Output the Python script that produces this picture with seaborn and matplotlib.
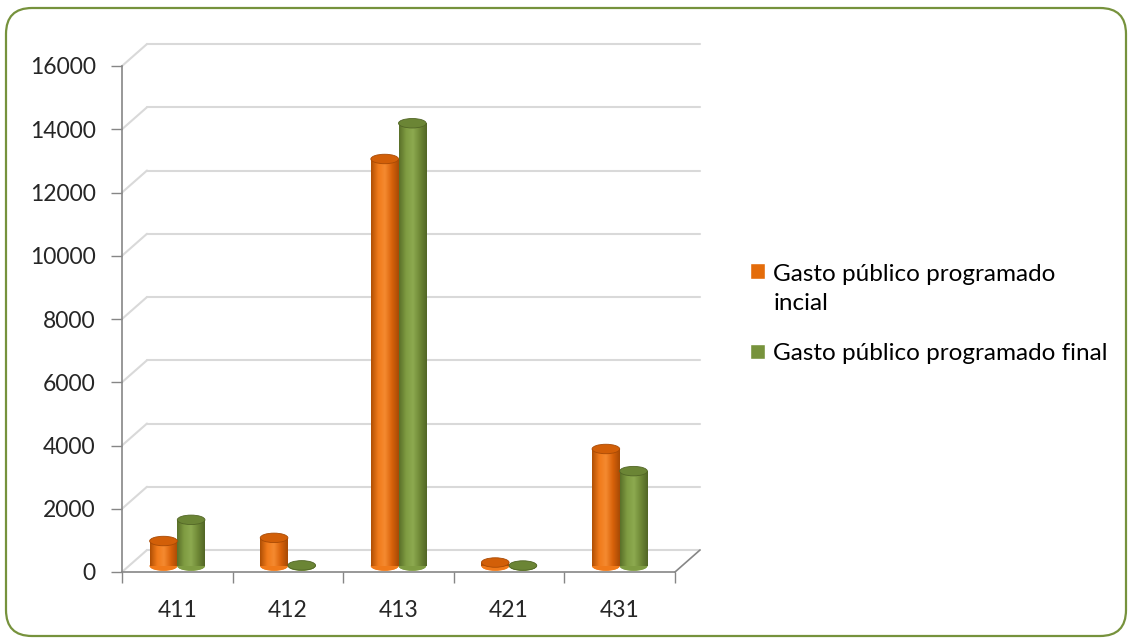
import numpy as np
import matplotlib.pyplot as plt
import matplotlib.transforms as mtransforms
from matplotlib.patches import FancyBboxPatch, Ellipse
from matplotlib.colors import LinearSegmentedColormap
from matplotlib.lines import Line2D
import seaborn as sns
import pandas as pd

categories = ['411', '412', '413', '421', '431']
gasto_inicial = [790, 890, 12870, 110, 3700]
gasto_final = [1460, 20, 14000, 15, 3000]
series_names = ['Gasto público programado\nincial', 'Gasto público programado final']
yticks = [0, 2000, 4000, 6000, 8000, 10000, 12000, 14000, 16000]

df = pd.DataFrame({
    'Programa': categories * 2,
    'Gasto': gasto_inicial + gasto_final,
    'Serie': [series_names[0]] * len(categories) + [series_names[1]] * len(categories),
})

orange, green = '#E46C0A', '#77933C'
shades = {
    orange: (['#B04F05', '#F07A1A', '#F58A30', '#D8620A', '#A84A05'], '#D25F08'),
    green: (['#5A7029', '#7F9C42', '#8DAA50', '#6F8936', '#526626'], '#6B8535'),
}

sns.set_theme(style='white')
plt.rcParams['font.family'] = ['Lato', 'DejaVu Sans']

W, H = 1132, 641
fig = plt.figure(figsize=(W / 100, H / 100), dpi=100)
ax = fig.add_axes([122 / W, 1 - 572 / H, (675 - 122) / W, (572 - 66) / H])
ax.patch.set_alpha(0)

sns.barplot(data=df, x='Programa', y='Gasto', hue='Serie',
            palette=[orange, green], width=0.5, saturation=1,
            ax=ax, legend=True, zorder=3)

ax.set_xlim(-0.5, len(categories) - 0.5)
ax.set_ylim(0, 16000)
ax.set_yticks(yticks)
ax.set_xlabel('')
ax.set_ylabel('')
ax.tick_params(axis='y', labelsize=16.5, length=8, width=1, color='#868686', pad=11, left=True)
ax.tick_params(axis='x', labelsize=16.5, length=0, pad=20)
ax.set_xticks([i - 0.5 for i in range(len(categories) + 1)], minor=True)
ax.tick_params(axis='x', which='minor', length=8, width=1, color='#868686', bottom=True)
for s in ['top', 'right']:
    ax.spines[s].set_visible(False)
for s in ['left', 'bottom']:
    ax.spines[s].set_color('#868686')
    ax.spines[s].set_linewidth(1.2)

# bars sit in the middle of the 3d depth; draw them as shaded cylinders
mid = mtransforms.offset_copy(ax.transData, fig=fig, x=0, y=6, units='dots')
ell_h = 300
for p in list(ax.patches):
    w, h = p.get_width(), p.get_height()
    if not (w > 0 and np.isfinite(h)):
        continue
    fc = p.get_facecolor()
    key = orange if abs(fc[0] - 0.894) < 0.05 else green
    ramp, top_col = shades[key]
    cmap = LinearSegmentedColormap.from_list('cyl', ramp)
    x0 = p.get_x()
    cx = x0 + w / 2
    p.set_transform(mid)
    p.set_edgecolor('none')
    ax.add_patch(Ellipse((cx, 0), w, ell_h, transform=mid, facecolor=ramp[2],
                         edgecolor='none', zorder=2.9))
    im = ax.imshow(np.linspace(0, 1, 64)[None, :], cmap=cmap, aspect='auto',
                   extent=(x0, x0 + w, 0, h), transform=mid, zorder=3.2,
                   interpolation='bilinear')
    im.set_clip_path(p)
    ax.add_patch(Ellipse((cx, 0), w, ell_h, transform=mid, facecolor=ramp[1],
                         edgecolor='none', zorder=3.1))
    ax.add_patch(Ellipse((cx, h), w, ell_h, transform=mid, facecolor=top_col,
                         edgecolor=ramp[4], lw=0.6, zorder=3.4))

ax.set_xlim(-0.5, len(categories) - 0.5)
ax.set_ylim(0, 16000)

# perspective back wall gridlines
dx, dy = 25, 22
ident = mtransforms.IdentityTransform()
fig.canvas.draw()
xa, xb = ax.get_xlim()
for v in yticks:
    (ax0, ay0), = ax.transData.transform([(xa, v)])
    (ax1, ay1), = ax.transData.transform([(xb, v)])
    fig.add_artist(Line2D([ax0 + dx, ax1 + dx], [ay0 + dy, ay1 + dy], color='#D9D9D9', lw=1.5,
                          transform=ident, zorder=0))
    fig.add_artist(Line2D([ax0, ax0 + dx], [ay0, ay0 + dy], color='#D9D9D9', lw=1.5,
                          transform=ident, zorder=0))
(fx1, fy1), = ax.transData.transform([(xb, 0)])
fig.add_artist(Line2D([fx1, fx1 + dx], [fy1, fy1 + dy], color='#868686', lw=1.2,
                      transform=ident, zorder=1))

leg = ax.legend(loc='upper left', bbox_to_anchor=(738 / W, 1 - 252 / H),
                bbox_transform=fig.transFigure, frameon=False, fontsize=17.5,
                handlelength=0.6, handleheight=0.6, handletextpad=0.35,
                labelspacing=1.2, borderpad=0)
for t in leg.get_texts():
    t.set_color('#000000')
    t.set_linespacing(1.45)
# first label wraps over two lines: keep its marker beside the first line
first = leg.legend_handles[0]
first.set_y(first.get_y() + 13)

fig.add_artist(FancyBboxPatch((6, 5), 1120, 628, boxstyle='round,pad=0,rounding_size=26',
                              transform=ident, facecolor='none', edgecolor='#76923C',
                              lw=1.6, zorder=10))

fig.savefig('out.png', dpi=100)
